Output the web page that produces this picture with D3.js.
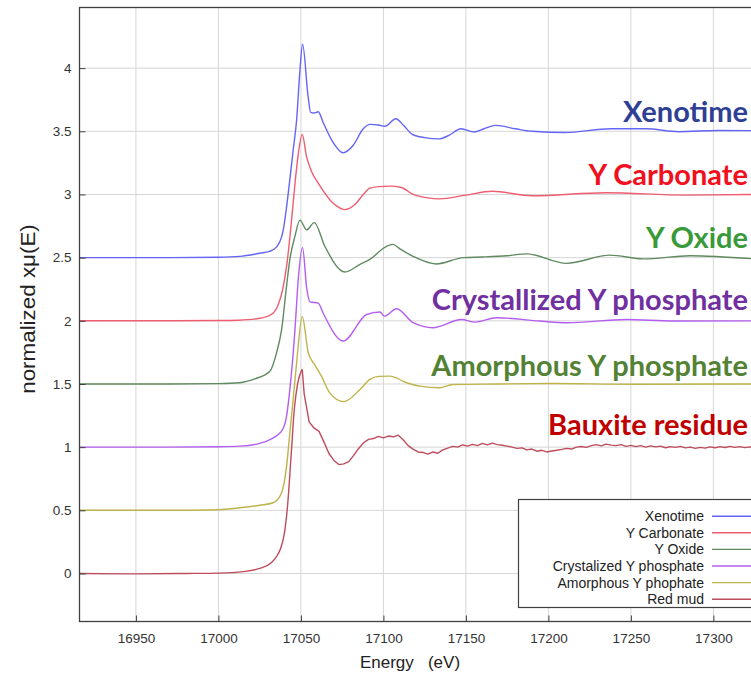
<!DOCTYPE html>
<html>
<head>
<meta charset="utf-8">
<script src="https://cdn.jsdelivr.net/npm/d3@7"></script>
<style>
  body { margin: 0; background: #fff; }
  svg { display: block; }
  .tick text { font-family: "Liberation Sans", Arial, sans-serif; font-size: 13.5px; fill: #333; }
</style>
</head>
<body>
<div id="chart"></div>
<script>
// energies (eV) and normalized absorption
const xenotimeE = [16916, 16970, 17000, 17013, 17025, 17031, 17035.3, 17038.2, 17039.3, 17041.3, 17043.3, 17045.3, 17047.4, 17049.4, 17051,
  17054.4, 17055.9, 17058, 17060.5, 17063.5, 17069.6, 17075.6, 17081.7, 17087.8, 17091.8, 17097, 17101, 17107.5, 17112, 17117.5,
  17125, 17133.7, 17140, 17147, 17155, 17161, 17168, 17180, 17190, 17210, 17238, 17259, 17279, 17303, 17325];
const xenotimeMu = [2.5, 2.5, 2.503, 2.51, 2.535, 2.55, 2.585, 2.66, 2.72, 2.9, 3.12, 3.35, 3.59, 3.98, 4.19,
  3.77, 3.65, 3.645, 3.655, 3.57, 3.41, 3.33, 3.39, 3.52, 3.555, 3.55, 3.54, 3.6, 3.55, 3.476,
  3.45, 3.44, 3.47, 3.52, 3.495, 3.52, 3.547, 3.52, 3.5, 3.49, 3.52, 3.52, 3.497, 3.507, 3.505];

const carbonateE = [16916, 16970, 17000, 17012, 17025, 17032, 17036, 17039, 17041.5, 17044, 17046.5, 17048.5, 17050.8,
  17053.4, 17056.5, 17060.5, 17069.6, 17076.7, 17082.7, 17087.8, 17091.8, 17097, 17104, 17111, 17118, 17126, 17134,
  17150, 17166, 17190, 17235, 17283, 17325];
const carbonateMu = [2.0, 2.0, 2.002, 2.005, 2.02, 2.05, 2.12, 2.25, 2.45, 2.75, 3.1, 3.33, 3.476,
  3.3, 3.18, 3.09, 2.93, 2.88, 2.92, 3.0, 3.05, 3.062, 3.066, 3.055, 3.0, 2.975, 2.965,
  2.995, 3.025, 2.99, 3.014, 2.995, 3.0];

const oxideE = [16916, 16970, 17000, 17013, 17022, 17031.2, 17035.3, 17038.3, 17041.3, 17043.3, 17046.4, 17049.4, 17053.5,
  17058.1, 17064.5, 17076.7, 17085.8, 17091.8, 17101.9, 17105.8, 17110, 17118, 17132, 17148.4, 17160, 17175, 17186.8,
  17211, 17237.3, 17257.5, 17285.8, 17325];
const oxideMu = [1.5, 1.5, 1.503, 1.51, 1.54, 1.6, 1.75, 1.93, 2.275, 2.486, 2.67, 2.797, 2.72,
  2.777, 2.59, 2.386, 2.447, 2.486, 2.59, 2.605, 2.57, 2.51, 2.45, 2.5, 2.505, 2.515, 2.53,
  2.455, 2.52, 2.49, 2.515, 2.49];

const crystE = [16916, 16970, 17000, 17013, 17025, 17031.2, 17038.5, 17041.3, 17043.3, 17046.4, 17048.4, 17051,
  17053.5, 17055.5, 17060.5, 17063.5, 17075.6, 17089.8, 17097.9, 17100.5, 17108, 17118, 17130, 17147.4, 17155.5,
  17168.6, 17194.8, 17211, 17247.4, 17275.6, 17325];
const crystMu = [1.0, 1.0, 1.003, 1.008, 1.03, 1.06, 1.13, 1.245, 1.457, 1.93, 2.33, 2.579,
  2.26, 2.15, 2.14, 2.06, 1.84, 2.05, 2.07, 2.037, 2.096, 1.985, 1.945, 2.01, 1.99,
  2.024, 1.998, 1.985, 2.01, 1.998, 2.0];

const amorphE = [16916, 16970, 17000, 17013, 17025, 17033.2, 17038.3, 17041.3, 17043.3, 17045.3, 17047.4, 17050.8,
  17054.5, 17058.5, 17062.5, 17067.5, 17076, 17085.8, 17091.8, 17097, 17104, 17114, 17122, 17134, 17142,
  17170, 17202.7, 17250, 17325];
const amorphMu = [0.5, 0.5, 0.505, 0.52, 0.54, 0.56, 0.639, 0.85, 1.114, 1.378, 1.668, 2.032,
  1.745, 1.65, 1.56, 1.43, 1.36, 1.457, 1.536, 1.56, 1.562, 1.51, 1.483, 1.47, 1.496,
  1.5, 1.504, 1.498, 1.5];

// red mud: pre-edge and edge are smooth, the EXAFS part is noisy
const redMudEdgeE = [16916, 16950, 16980, 17000, 17015, 17025, 17032, 17036, 17038, 17040, 17042, 17044, 17046, 17048, 17050.8];
const redMudEdgeMu = [0.0, -0.003, 0.0, 0.003, 0.015, 0.04, 0.085, 0.15, 0.21, 0.32, 0.55, 0.92, 1.3, 1.5, 1.615];
const redMudTailE = [17050.8,
  17052, 17055, 17058, 17061, 17064, 17067, 17070, 17073, 17076, 17079, 17082, 17085, 17088, 17091, 17094, 17097,
  17100, 17103, 17106, 17109, 17112, 17115, 17118, 17121, 17124, 17127, 17130, 17133, 17136, 17139, 17142, 17145,
  17148, 17151, 17154, 17157, 17160, 17163, 17166, 17169, 17172, 17175, 17178, 17181, 17184, 17187, 17190, 17193,
  17196, 17199, 17202, 17205, 17208, 17211, 17214, 17217, 17220, 17223, 17226, 17229, 17232, 17235, 17238, 17241,
  17244, 17247, 17250, 17253, 17256, 17259, 17262, 17265, 17268, 17271, 17274, 17277, 17280, 17283, 17286, 17289,
  17292, 17295, 17298, 17301, 17304, 17307, 17310, 17313, 17316, 17319, 17322, 17325];
const redMudTailMu = [1.615,
  1.42, 1.2, 1.15, 1.125, 1.04, 0.95, 0.895, 0.862, 0.868, 0.885, 0.935, 0.99, 1.035, 1.062, 1.068, 1.085,
  1.074, 1.088, 1.082, 1.095, 1.058, 1.012, 0.985, 0.962, 0.958, 0.945, 0.962, 0.952, 0.978, 0.992, 1.006, 1.0,
  1.018, 1.008, 1.022, 1.012, 1.03, 1.018, 1.032, 1.02, 1.015, 1.008, 1.0, 0.99, 0.994, 0.978, 0.985, 0.968,
  0.975, 0.962, 0.97, 0.975, 0.982, 0.99, 0.985, 1.0, 1.005, 0.998, 1.012, 1.02, 1.01, 1.024, 1.016, 1.012,
  1.02, 1.006, 1.014, 1.004, 1.012, 1.0, 1.01, 1.002, 1.008, 0.995, 1.004, 0.998, 1.006, 0.994, 1.0, 0.99,
  0.998, 0.992, 1.002, 0.995, 1.004, 0.997, 1.006, 0.998, 1.004, 0.996, 1.002, 1.0];

const legendNames = ["Xenotime", "Y Carbonate", "Y Oxide", "Crystalized Y phosphate", "Amorphous Y phophate", "Red mud"];
const lineColors = ["#6464f6", "#ee5d70", "#5f8a5f", "#b45ef0", "#bdb44a", "#bd4c5c"];

const labelTexts = ["Xenotime", "Y Carbonate", "Y Oxide", "Crystallized Y phosphate", "Amorphous Y phosphate", "Bauxite residue"];
const labelColors = ["#2f3f94", "#f0101e", "#3a9a3a", "#7030a0", "#548235", "#c00000"];
// label baselines in data units; all labels end at the same energy
const labelMu = [3.575, 3.075, 2.575, 2.087, 1.56, 1.099];
const labelEndE = 17321;

const xTicks = [16950, 17000, 17050, 17100, 17150, 17200, 17250, 17300];
const yTicks = [0, 0.5, 1, 1.5, 2, 2.5, 3, 3.5, 4];

const series = [
  { parts: [[xenotimeE, xenotimeMu]] },
  { parts: [[carbonateE, carbonateMu]] },
  { parts: [[oxideE, oxideMu]] },
  { parts: [[crystE, crystMu]] },
  { parts: [[amorphE, amorphMu]] },
  { parts: [[redMudEdgeE, redMudEdgeMu], [redMudTailE, redMudTailMu, true]] }
].map((s, i) => ({ name: legendNames[i], color: lineColors[i],
  parts: s.parts.map(p => ({ noisy: !!p[2], points: p[0].map((e, j) => [e, p[1][j]]) })) }));

const width = 751, height = 675;
const plot = { left: 79.5, top: 7.5, right: 800, bottom: 621.5 };

const svg = d3.select("#chart").append("svg")
  .attr("width", width)
  .attr("height", height);

svg.append("rect").attr("width", width).attr("height", height).attr("fill", "#fff");

const x = d3.scaleLinear().domain([16915.8, 17352.5]).range([plot.left, plot.right]);
const y = d3.scaleLinear().domain([-0.38, 4.48]).range([plot.bottom, plot.top]);

// grid
svg.append("g").selectAll("line").data(xTicks).join("line")
  .attr("x1", d => x(d)).attr("x2", d => x(d))
  .attr("y1", plot.top).attr("y2", plot.bottom)
  .attr("stroke", "#d6d6d6").attr("stroke-width", 1);
svg.append("g").selectAll("line").data(yTicks).join("line")
  .attr("x1", plot.left).attr("x2", plot.right)
  .attr("y1", d => y(d)).attr("y2", d => y(d))
  .attr("stroke", "#d6d6d6").attr("stroke-width", 1);

svg.append("clipPath").attr("id", "clip")
  .append("rect")
  .attr("x", plot.left).attr("y", plot.top)
  .attr("width", plot.right - plot.left).attr("height", plot.bottom - plot.top);

const smooth = d3.line().x(d => x(d[0])).y(d => y(d[1])).curve(d3.curveMonotoneX);
const jagged = d3.line().x(d => x(d[0])).y(d => y(d[1]));

const curves = svg.append("g").attr("clip-path", "url(#clip)")
  .selectAll("g").data(series.slice().reverse()).join("g")
  .attr("stroke", d => d.color);
curves.selectAll("path").data(d => d.parts).join("path")
  .attr("d", p => (p.noisy ? jagged : smooth)(p.points))
  .attr("fill", "none")
  .attr("stroke-width", 1.4)
  .attr("stroke-linejoin", "round");

// axes with inward ticks
svg.append("g")
  .attr("transform", `translate(0,${plot.bottom})`)
  .call(d3.axisBottom(x).tickValues(xTicks).tickSizeInner(-6).tickSizeOuter(0).tickPadding(12).tickFormat(d3.format("d")))
  .call(g => g.select(".domain").remove())
  .call(g => g.selectAll(".tick line").attr("stroke", "#404040"));

svg.append("g")
  .attr("transform", `translate(${plot.left},0)`)
  .call(d3.axisLeft(y).tickValues(yTicks).tickSizeInner(-6).tickSizeOuter(0).tickPadding(8).tickFormat(d => String(d)))
  .call(g => g.select(".domain").remove())
  .call(g => g.selectAll(".tick line").attr("stroke", "#404040"));

svg.append("rect")
  .attr("x", plot.left).attr("y", plot.top)
  .attr("width", plot.right - plot.left).attr("height", plot.bottom - plot.top)
  .attr("fill", "none").attr("stroke", "#404040").attr("stroke-width", 1.3);

// axis titles
svg.append("text")
  .attr("x", 410).attr("y", 668)
  .attr("text-anchor", "middle")
  .attr("font-family", "Liberation Sans, Arial, sans-serif")
  .attr("font-size", 17).attr("fill", "#222")
  .style("white-space", "pre")
  .text("Energy   (eV)");

svg.append("text")
  .attr("transform", "translate(35,309) rotate(-90) scale(1.12,1)")
  .attr("text-anchor", "middle")
  .attr("font-family", "Liberation Sans, Arial, sans-serif")
  .attr("font-size", 20).attr("fill", "#222")
  .text("normalized xμ(E)");

// coloured sample labels
svg.append("g").selectAll("text").data(labelTexts).join("text")
  .attr("x", x(labelEndE))
  .attr("y", (d, i) => y(labelMu[i]))
  .attr("text-anchor", "end")
  .attr("font-family", "Lato, 'Open Sans', sans-serif")
  .attr("font-weight", "bold")
  .attr("font-size", 29)
  .attr("fill", (d, i) => labelColors[i])
  .text(d => d);

// legend
const legend = svg.append("g");
legend.append("rect")
  .attr("x", 518.5).attr("y", 499.5).attr("width", 260).attr("height", 108)
  .attr("fill", "#fff").attr("stroke", "#404040").attr("stroke-width", 1.2);

const rows = legend.selectAll("g.row").data(series).join("g")
  .attr("class", "row")
  .attr("transform", (d, i) => `translate(0,${516.2 + i * 16.6})`);
rows.append("text")
  .attr("x", 704).attr("dy", "0.35em")
  .attr("text-anchor", "end")
  .attr("font-family", "Liberation Sans, Arial, sans-serif")
  .attr("font-size", 14).attr("fill", "#222")
  .text(d => d.name);
rows.append("line")
  .attr("x1", 712).attr("x2", 770)
  .attr("stroke", d => d.color).attr("stroke-width", 1.4);
</script>
</body>
</html>
